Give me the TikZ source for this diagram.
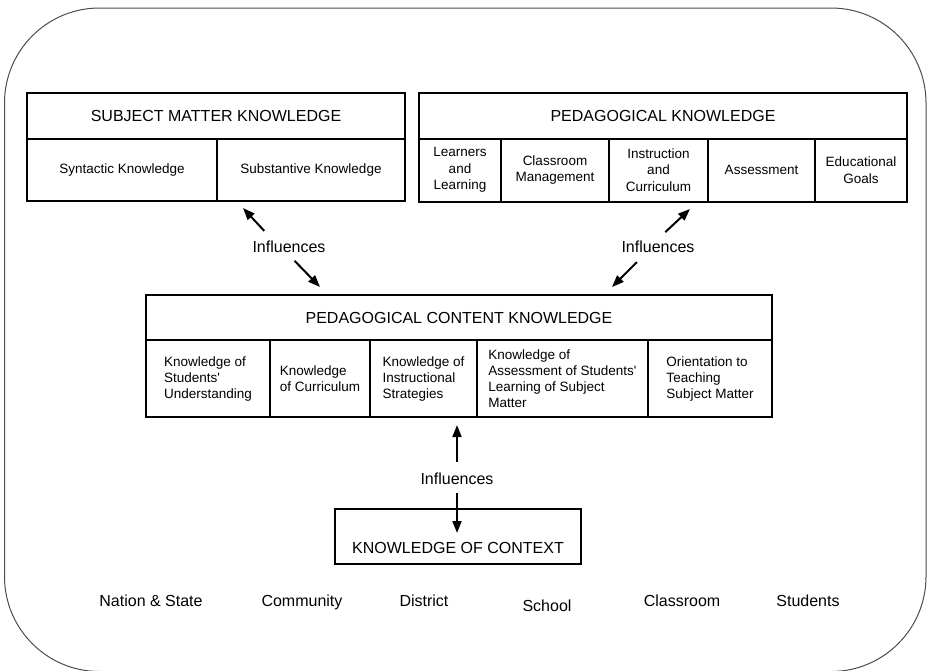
\documentclass[tikz,border=0pt]{standalone}
\usepackage{fontspec}
\setmainfont{Liberation Sans}
\usetikzlibrary{arrows.meta}

\tikzset{
  bigbox/.style={draw, line width=2.6pt},
  divline/.style={line width=1.1pt},
  headtext/.style={font=\fontsize{16}{19}\selectfont},
  celltext/.style={font=\fontsize{13.5}{16.5}\selectfont, align=center},
  pcktext/.style={font=\fontsize{13.5}{16}\selectfont, align=left},
  inftext/.style={font=\fontsize{16}{19}\selectfont, inner sep=2pt},
  infarrow/.style={-{Triangle[length=12pt,width=9pt]}, line width=2pt},
}

\begin{document}
\begin{tikzpicture}[x=1pt,y=-1pt]
    \useasboundingbox (0,0) rectangle (928,670);
    % outer frame
    \draw[black!70, line width=1pt, rounded corners=95pt] (4.5,8) rectangle (926,671.5);

    % subject matter knowledge
    \draw[divline] (27,139) -- (405,139) (217,139) -- (217,201);
    \draw[bigbox] (27,93) rectangle (405,201);
    \node[headtext] (smk) at (216,116) {SUBJECT MATTER KNOWLEDGE};
    \node[celltext] (syn) at (122,170) {Syntactic Knowledge};
    \node[celltext] (sub) at (311,170) {Substantive Knowledge};

    % pedagogical knowledge
    \draw[divline] (419,139) -- (907,139);
    \foreach \x in {501,609,708,815}
        \draw[divline] (\x,139) -- (\x,202);
    \draw[bigbox] (419,93) rectangle (907,202);
    \node[headtext] (pk) at (663,116) {PEDAGOGICAL KNOWLEDGE};
    \foreach \x/\txt [count=\i] in {460/Learners\\and\\Learning, 555/Classroom\\Management,
        658.5/Instruction\\and\\Curriculum, 761.5/Assessment, 861/Educational\\Goals}
        \node[celltext] (pk\i) at (\x,170) {\txt};

    % pedagogical content knowledge
    \draw[divline] (146,340) -- (772,340);
    \foreach \x in {270,370,477,648}
        \draw[divline] (\x,340) -- (\x,417);
    \draw[bigbox] (146,295) rectangle (772,417);
    \node[headtext] (pck) at (459,318) {PEDAGOGICAL CONTENT KNOWLEDGE};
    \foreach \x/\txt [count=\i] in {208/Knowledge of\\Students\textquotesingle\\Understanding, 320/Knowledge\\of Curriculum,
        423.5/Knowledge of\\Instructional\\Strategies,
        562.5/Knowledge of\\Assessment of Students\textquotesingle\\Learning of Subject\\Matter,
        710/Orientation to\\Teaching\\Subject Matter}
        \node[pcktext] (pck\i) at (\x,378.5) {\txt};

    % knowledge of context
    \node[draw, line width=1.1pt, minimum width=246pt, minimum height=55pt] (koc) at (458,536.5) {};
    \node[headtext] (koctxt) at (458,548) {KNOWLEDGE OF CONTEXT};
    \foreach \x/\y/\txt [count=\i] in {151/606/Nation \& State, 302/606/Community, 424/606/District,
        547/611/School, 682/606/Classroom, 808/606/Students}
        \node[headtext, anchor=base] (ctx\i) at (\x,\y) {\txt};

    % influences
    \node[inftext] (infsmk) at (289,247) {Influences};
    \node[inftext] (infpk) at (658,247) {Influences};
    \node[inftext] (infctx) at (457,479) {Influences};
    \coordinate (smktip) at (243,208);
    \coordinate (pcktipl) at (320,287);
    \coordinate (pktip) at (690,209);
    \coordinate (pcktipr) at (612,287);
    \coordinate (pcktipb) at (457,425);
    \coordinate (koctip) at (457,533);

    \draw[infarrow, shorten <=11pt] (infsmk.155) -- (smktip);
    \draw[infarrow, shorten <=8pt] (infsmk.south) -- (pcktipl);
    \draw[infarrow, shorten <=10pt] (infpk.north) -- (pktip);
    \draw[infarrow, shorten <=10pt] (infpk.210) -- (pcktipr);
    \draw[infarrow, shorten <=9pt] (infctx.north) -- (pcktipb);
    \draw[infarrow, shorten <=6pt] (infctx.south) -- (koctip);
\end{tikzpicture}
\end{document}
